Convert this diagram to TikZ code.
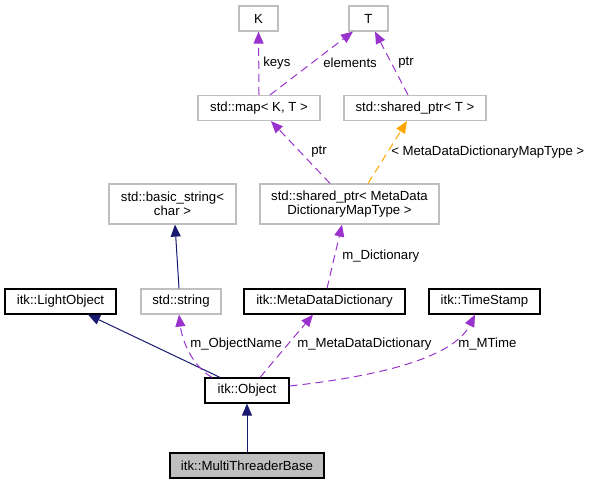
\documentclass[tikz,border=0pt]{standalone}
\usepackage{fontspec}
\setmainfont{Liberation Sans}
\usetikzlibrary{calc,arrows.meta}
\definecolor{edgepurple}{HTML}{9A32CD}
\definecolor{edgenavy}{HTML}{191970}
\definecolor{edgeorange}{HTML}{FFA500}
\definecolor{boxgrey}{HTML}{BFBFBF}
\begin{document}
\begin{tikzpicture}[x=0.75pt,y=-0.75pt,
  font=\fontsize{9.9}{10.5}\selectfont,
  sz/.style 2 args={minimum width=#1*0.75pt, minimum height=#2*0.75pt},
  cls/.style={draw=black, line width=0.9pt, inner sep=0pt, align=center},
  ext/.style={draw=boxgrey, line width=0.9pt, inner sep=0pt, align=center},
  lbl/.style={anchor=west, inner sep=0pt},
  tip/.style={-{Triangle[length=9pt,width=7.5pt]}},
  inh/.style={draw=edgenavy, line width=0.75pt, tip},
  usage/.style={draw=edgepurple, line width=0.75pt, dash pattern=on 6pt off 3.75pt, tip},
  tmpl/.style={draw=edgeorange, line width=0.75pt, dash pattern=on 6pt off 3.75pt, tip}]
\useasboundingbox (0,0) rectangle (591,485);
% nodes
\node[ext, sz={39}{25}] (K) at (258.5,18.5) {K};
\node[ext, sz={39}{25}] (T) at (368.5,18.5) {T};
\node[ext, sz={122}{25}] (map) at (259,108) {std::map< K, T >};
\node[ext, sz={142}{25}] (sptrT) at (415,108) {std::shared\_ptr< T >};
\node[ext, sz={127}{40}] (bstr) at (172.5,204) {std::basic\_string<\\char >};
\node[ext, sz={179}{40}] (sptrM) at (349.5,204) {std::shared\_ptr< MetaData\\DictionaryMapType >};
\node[cls, sz={111}{25}] (light) at (60.5,301.5) {itk::LightObject};
\node[ext, sz={80}{25}] (str) at (181,301.5) {std::string};
\node[cls, sz={161}{25}] (mdd) at (324.5,301.5) {itk::MetaDataDictionary};
\node[cls, sz={111}{25}] (ts) at (484.5,301.5) {itk::TimeStamp};
\node[cls, sz={84}{25}] (obj) at (247,390.5) {itk::Object};
\node[cls, fill=boxgrey, sz={154}{25}] (mtb) at (247,465.5) {itk::MultiThreaderBase};
% connectors
\draw[inh] (mtb.north) -- (obj.south);
\draw[inh] ($(obj.north)+(-27,0)$) -- ($(light.south)+(27.5,0)$);
\draw[inh] ($(str.north)+(-2,0)$) -- ($(bstr.south)+(2.5,0)$);
\draw[usage] ($(obj.north)+(-35,0)$) .. controls (192,366) and (182,340) .. ($(str.south)+(-2,0)$);
\draw[usage] ($(obj.north)+(13,0)$) -- ($(mdd.south)+(-11.5,0)$);
\draw[usage] ($(obj.east)+(0,-4.5)$) .. controls (390,375) and (455,355) .. ($(ts.south)+(-9.5,0)$);
\draw[usage] ($(mdd.north)+(2.5,0)$) -- ($(sptrM.south)+(-7.5,0)$);
\draw[usage] ($(sptrM.north)+(-19.5,0)$) -- ($(map.south)+(12,0)$);
\draw[tmpl] ($(sptrM.north)+(18.5,0)$) -- ($(sptrT.south)+(-8,0)$);
\draw[usage] (map.north) -- (K.south);
\draw[usage] ($(map.north)+(11,0)$) -- ($(T.south)+(-15.5,0)$);
\draw[usage] ($(sptrT.north)+(-7,0)$) -- ($(T.south)+(6.5,0)$);
% labels
\node[lbl] (lkeys) at (263,63) {keys};
\node[lbl] (lelem) at (323,63) {elements};
\node[lbl] (lptr1) at (398,63) {ptr};
\node[lbl] (lptr2) at (311,152) {ptr};
\node[lbl] (ltmpl) at (391,152) {< MetaDataDictionaryMapType >};
\node[lbl] (ldict) at (342,256) {m\_Dictionary};
\node[lbl] (lname) at (190,344) {m\_ObjectName};
\node[lbl] (lmdd) at (297,344) {m\_MetaDataDictionary};
\node[lbl] (lmtime) at (458,344) {m\_MTime};
\end{tikzpicture}
\end{document}
